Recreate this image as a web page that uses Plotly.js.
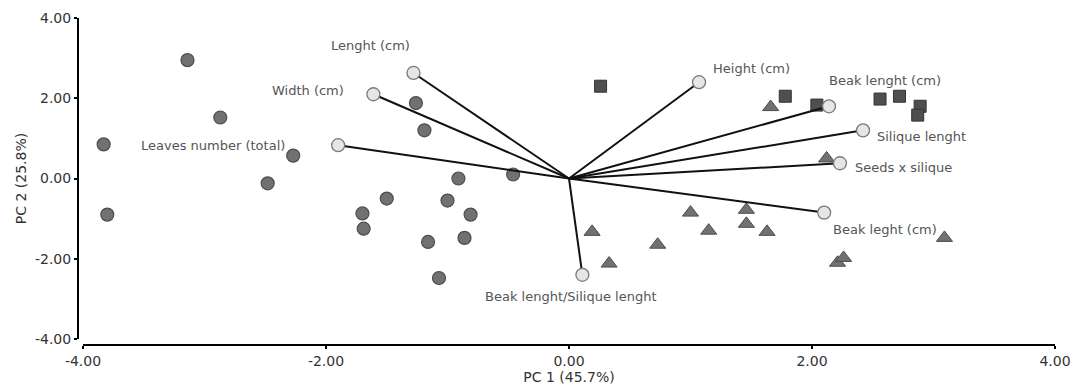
<!DOCTYPE html>
<html><head><meta charset="utf-8">
<script src="https://cdn.plot.ly/plotly-3.0.1.min.js"></script>
<style>html,body{margin:0;padding:0;background:#fff}#chart{width:1076px;height:390px}</style>
</head><body><div id="chart"></div>
<script>
// Group 1 (circles)
var circX = [-3.83,-3.80,-3.14,-2.87,-2.48,-2.27,-1.70,-1.69,-1.50,-1.26,-1.19,-1.16,-1.00,-0.91,-0.86,-0.81,-1.07,-0.46];
var circY = [0.85,-0.90,2.95,1.52,-0.12,0.57,-0.87,-1.25,-0.50,1.88,1.20,-1.58,-0.55,0.00,-1.48,-0.90,-2.48,0.10];
// Group 2 (triangles)
var triX = [0.19,0.33,0.73,1.00,1.15,1.46,1.46,1.63,2.21,2.26,3.09,1.66,2.12];
var triY = [-1.33,-2.12,-1.65,-0.85,-1.30,-0.78,-1.13,-1.33,-2.10,-1.98,-1.48,1.78,0.50];
// Group 3 (squares)
var sqX = [0.26,1.78,2.04,2.56,2.72,2.89,2.87];
var sqY = [2.30,2.05,1.83,1.98,2.05,1.80,1.58];
// Variable loadings (vectors)
var varNames = ["Lenght (cm)","Width (cm)","Leaves number (total)","Height (cm)","Beak lenght (cm)","Silique lenght","Seeds x silique","Beak leght (cm)","Beak lenght/Silique lenght"];
var varX = [-1.28,-1.61,-1.90,1.07,2.14,2.42,2.23,2.10,0.11];
var varY = [2.63,2.10,0.83,2.40,1.80,1.20,0.38,-0.85,-2.40];
// label pixel offsets (style)
var labDX = [-43,-65,-125,52,56,58,64,61,-11];
var labDY = [-27,-4,0,-14,-26,6,4,17,22];
var tickVals = [-4,-2,0,2,4];
var tickText = ["-4.00","-2.00","0.00","2.00","4.00"];

var lx=[], ly=[];
for (var i=0;i<varX.length;i++){ lx.push(0,varX[i],null); ly.push(0,varY[i],null); }

var FONT = 'DejaVu Sans, Liberation Sans, Arial, sans-serif';
var traces = [
 {x:circX,y:circY,type:'scatter',mode:'markers',marker:{symbol:'circle',size:13,color:'#717171',line:{color:'#4d4d4d',width:1.2}},hoverinfo:'x+y'},
 {x:triX,y:triY,type:'scatter',mode:'markers',marker:{symbol:'triangle-up',size:14,color:'#717171',line:{color:'#4d4d4d',width:1}},hoverinfo:'x+y'},
 {x:sqX,y:sqY,type:'scatter',mode:'markers',marker:{symbol:'square',size:12,color:'#4f4f4f',line:{color:'#333',width:1}},hoverinfo:'x+y'},
 {x:lx,y:ly,type:'scatter',mode:'lines',line:{color:'#111',width:2},hoverinfo:'skip'},
 {x:varX,y:varY,text:varNames,type:'scatter',mode:'markers',marker:{symbol:'circle',size:13,color:'#e6e6e6',line:{color:'#7a7a7a',width:1.3}},hoverinfo:'text'}
];

var annotations = varNames.map(function(n,i){
 return {x:varX[i],y:varY[i],xref:'x',yref:'y',text:n,showarrow:false,xanchor:'center',yanchor:'middle',
   xshift:labDX[i],yshift:-labDY[i],font:{family:FONT,size:13,color:'#555'}};
});

var layout = {
 width:1076,height:390,
 margin:{l:78,r:21,t:18,b:45,pad:0},
 paper_bgcolor:'#fff',plot_bgcolor:'#fff',
 showlegend:false,
 font:{family:FONT,size:14,color:'#333'},
 xaxis:{range:[-4,4],domain:[5/977,1],anchor:'free',position:0,tickmode:'array',tickvals:tickVals,ticktext:tickText,
   showgrid:false,zeroline:false,showline:true,linecolor:'#000',linewidth:2,ticks:'outside',ticklen:3,tickwidth:2,tickcolor:'#000',
   tickfont:{family:FONT,size:14,color:'#333'},title:{text:'PC 1 (45.7%)',font:{family:FONT,size:14,color:'#333'},standoff:2}},
 yaxis:{range:[-4,4],domain:[6/327,1],anchor:'free',position:0,tickmode:'array',tickvals:tickVals,ticktext:tickText,
   showgrid:false,zeroline:false,showline:true,linecolor:'#000',linewidth:2,ticks:'outside',ticklen:3,tickwidth:2,tickcolor:'#000',
   tickfont:{family:FONT,size:14,color:'#333'},title:{text:'PC 2 (25.8%)',font:{family:FONT,size:14,color:'#333'},standoff:4}},
 annotations:annotations
};
Plotly.newPlot('chart',traces,layout,{displayModeBar:false,staticPlot:true});
</script></body></html>
